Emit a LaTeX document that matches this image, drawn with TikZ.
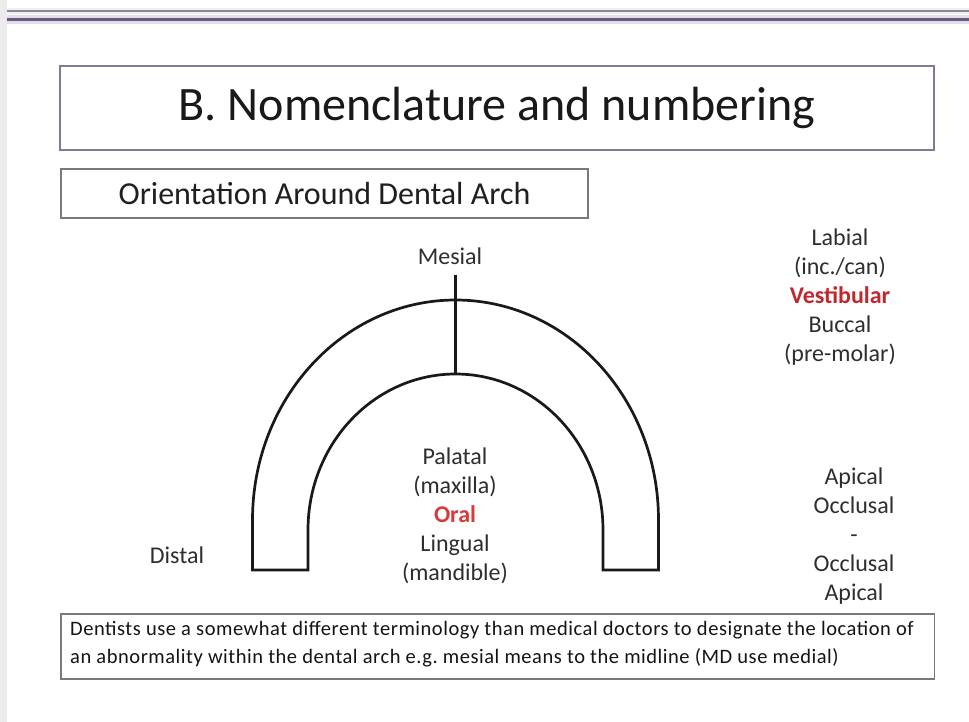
\documentclass[tikz,border=0pt]{standalone}
\usepackage{fontspec}
\setmainfont{Carlito}
\newfontfamily\notefont[LetterSpace=2.6]{Carlito}
\definecolor{txt}{HTML}{2E2E2E}
\definecolor{redA}{HTML}{C0282D}
\definecolor{redB}{HTML}{D83A3A}
\definecolor{purp}{HTML}{6A5880}
\definecolor{boxline}{HTML}{7A7A7A}
\definecolor{titleline}{HTML}{857895}
\tikzset{
  lbl/.style={text=txt, font=\fontsize{24}{29}\selectfont, align=center, inner sep=0pt},
  archline/.style={draw=black!90, line width=2.7pt, line join=miter},
}
\begin{document}
\begin{tikzpicture}[x=1pt,y=-1pt]
\useasboundingbox (0,0) rectangle (969,722);
\fill[white] (0,0) rectangle (969,722);
\fill[black!8] (0,0) rectangle (7,722);
% top rules
\fill[black!6!white] (7,8) rectangle (969,14);
\draw[draw=gray!75!blue!60!black!60, line width=2.5pt] (7,11) -- (969,11);
\fill[purp!20] (7,15.5) rectangle (969,24);
\draw[purp, line width=3.8pt] (7,19.5) -- (969,19.5);
% title box
\node[draw=titleline, line width=1.8pt, minimum width=874pt, minimum height=84pt, inner sep=0pt,
  font=\fontsize{48}{56}\selectfont, text=black!90] (title) at (497,108) {B. Nomenclature and numbering};
% subtitle box
\node[draw=boxline, line width=1.5pt, minimum width=527pt, minimum height=49pt, inner sep=0pt,
  font=\fontsize{32}{38}\selectfont, text=black!88] (sub) at (324.5,193.5) {Orientation Around Dental Arch};
% arch
\coordinate (oL) at (252.5,570);
\coordinate (oR) at (658.5,570);
\coordinate (iL) at (308,570);
\coordinate (iR) at (603,570);
\draw[archline] (oL) -- (252.5,520) arc[start angle=180, end angle=0, x radius=203pt, y radius=220pt]
  -- (oR) -- (iR) -- (603,530) arc[start angle=0, end angle=180, x radius=147.5pt, y radius=156pt]
  -- (iL) -- cycle;
\coordinate (mtop) at (455.5,275);
\coordinate (iapex) at (455.5,374);
\draw[black!90, line width=2.7pt] (mtop) -- (iapex);
% labels
\node[lbl] (mesial) at (450,256) {Mesial};
\node[lbl] (distal) at (177,555) {Distal};
\node[lbl] (oral) at (455,516) {Palatal\\(maxilla)\\\textcolor{redB}{\textbf{Oral}}\\Lingual\\(mandible)};
\node[lbl] (vest) at (840,297) {Labial\\(inc./can)\\\textcolor{redA}{\textbf{Vestibular}}\\Buccal\\(pre-molar)};
\node[lbl] (apical) at (854,536) {Apical\\Occlusal\\-\\Occlusal\\Apical};
% bottom box
\draw[boxline, line width=1.8pt] (61,614) rectangle (934.5,679);
\node[anchor=north west, inner sep=0pt, align=left, text=black!92,
  font=\notefont\fontsize{20.5}{28}\selectfont\frenchspacing] (note) at (70,621)
  {Dentists use a somewhat different terminology than medical doctors to designate the location of\\
   an abnormality within the dental arch e.g. mesial means to the midline (MD use medial)};
\end{tikzpicture}
\end{document}
